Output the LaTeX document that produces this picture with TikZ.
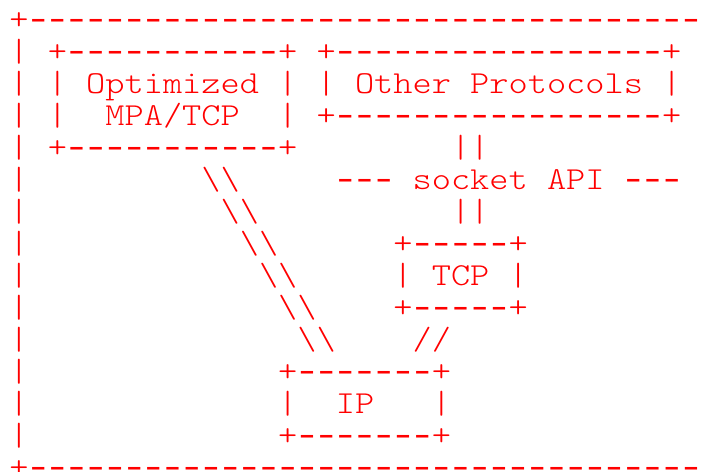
\documentclass[tikz,border=0pt]{standalone}
\usepackage{fontspec}
\newfontfamily\artfont{lmmonolt10-regular.otf}[FakeStretch=1.1429]
\newfontfamily\dashfont{DejaVu Sans Mono}[FakeStretch=1.5]
% a run of hyphens, each in a cell of one character width
\newcommand\dashrun[1]{\foreach \k in {1,...,#1}{\makebox[19.2pt]{\dashfont -}}}

\begin{document}
\begin{tikzpicture}[x=19.2pt,y=-32pt,shift={(9.4pt,-29pt)},
    art/.style={anchor=base west,inner sep=0pt,outer sep=0pt,text=red,
      font=\fontsize{32}{32}\artfont}]
  \useasboundingbox (-9.4pt,29pt) rectangle (699.6pt,-442pt);
  % outer frame
  \node[art] (frametop) at (0,0) {+\dashrun{35}};
  \foreach \r in {1,...,13} \node[art] (side\r) at (0,\r) {|};
  \node[art] (framebot) at (0,14) {+\dashrun{35}};
  % optimized MPA/TCP
  \node[art] (optA) at (2,1) {+\dashrun{11}+};
  \node[art] (optB) at (2,2) {| Optimized |};
  \node[art] (optL) at (2,3) {|};
  \node[art] (optC) at (5,3) {MPA/TCP};
  \node[art] (optR) at (14,3) {|};
  \node[art] (optD) at (2,4) {+\dashrun{11}+};
  % other protocols
  \node[art] (othA) at (16,1) {+\dashrun{17}+};
  \node[art] (othB) at (16,2) {| Other Protocols |};
  \node[art] (othC) at (16,3) {+\dashrun{17}+};
  % socket API
  \node[art] (apiU) at (23,4) {||};
  \node[art] (api) at (17,5) {\dashrun{3} socket API \dashrun{3}};
  \node[art] (apiD) at (23,6) {||};
  % TCP
  \node[art] (tcpA) at (20,7) {+\dashrun{5}+};
  \node[art] (tcpB) at (20,8) {| TCP |};
  \node[art] (tcpC) at (20,9) {+\dashrun{5}+};
  % links down to IP
  \foreach \r in {5,...,10} \node[art] (bs\r) at (\r+5,\r) {\textbackslash\textbackslash};
  \node[art] (fs) at (21,10) {//};
  % IP
  \node[art] (ipA) at (14,11) {+\dashrun{7}+};
  \node[art] (ipL) at (14,12) {|};
  \node[art] (ipC) at (17,12) {IP};
  \node[art] (ipR) at (22,12) {|};
  \node[art] (ipD) at (14,13) {+\dashrun{7}+};
\end{tikzpicture}
\end{document}
